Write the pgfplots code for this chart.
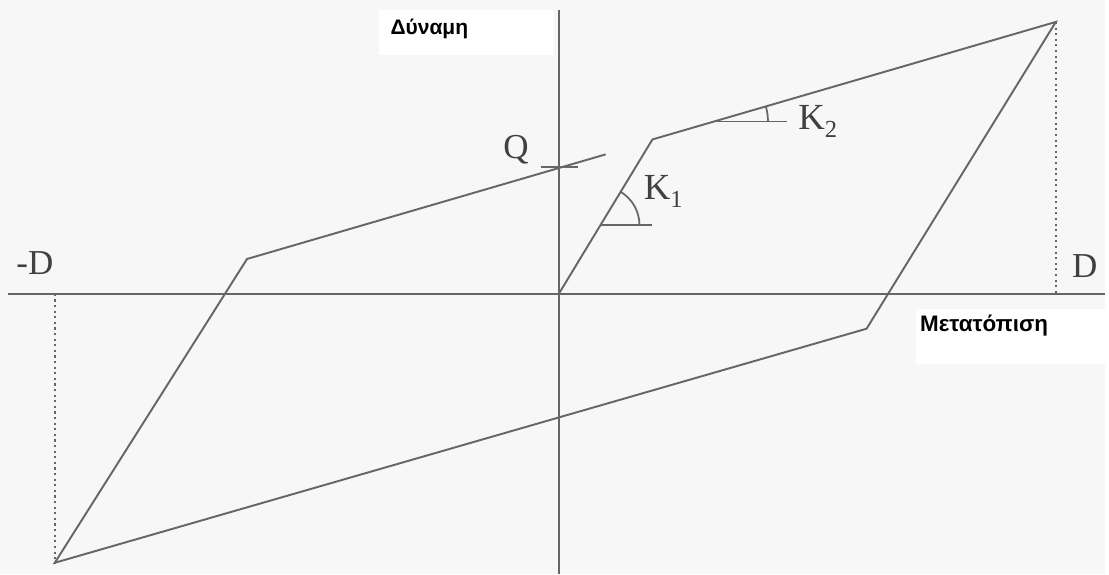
\documentclass[border=0pt]{standalone}
\usepackage{fontspec}
\setmainfont{Liberation Serif}
\newfontfamily\grk{Liberation Sans}
\usepackage{pgfplots}
\pgfplotsset{compat=1.18}
\definecolor{ink}{HTML}{666666}
\definecolor{paper}{HTML}{F7F7F7}
\begin{document}
\begin{tikzpicture}
\begin{axis}[hide axis, scale only axis, width=11.09cm, height=5.76cm,
  xmin=-561, xmax=548, ymin=-281, ymax=295, clip=false]
% background and label boxes
\fill[paper] (axis cs:-561,-281) rectangle (axis cs:548,295);
\fill[white] (axis cs:-181,240) rectangle (axis cs:-6,285);
\fill[white] (axis cs:359,-70) rectangle (axis cs:548,-15);
% coordinate axes
\addplot[ink, line width=0.5pt] coordinates {(-553,0) (548,0)};
\addplot[ink, line width=0.5pt] coordinates {(0,285) (0,-281)};
% dotted guides at +-D
\addplot[ink, densely dotted, line width=0.6pt] coordinates {(499,273) (499,0)};
\addplot[ink, densely dotted, line width=0.6pt] coordinates {(-506,0) (-506,-270)};
% hysteresis loop
\addplot[ink, line width=0.55pt] coordinates {
(0,0) (94,155) (499,273) (309,-35) (-506,-270) (-313,35) (47,140)
};
% Q tick
\addplot[ink, line width=0.55pt] coordinates {(-18,127) (19,127)};
% stiffness angle markers
\addplot[ink, line width=0.5pt] coordinates {(42,69) (94,69)};
\draw[ink, line width=0.5pt] (axis cs:81,69) arc[start angle=0, end angle=58.8, radius=0.39cm];
\addplot[ink, line width=0.5pt] coordinates {(154,173) (229,173)};
\draw[ink, line width=0.5pt] (axis cs:210,173) arc[start angle=0, end angle=16.2, radius=0.56cm];
% labels
\node[text=black!75, font=\fontsize{10}{10}\selectfont] at (axis cs:-526,31) {-D};
\node[text=black!75, font=\fontsize{10}{10}\selectfont] at (axis cs:528,28) {D};
\node[text=black!75, font=\fontsize{10}{10}\selectfont] at (axis cs:-43,145) {Q};
\node[text=black!75, font=\fontsize{10.5}{10}\selectfont, anchor=west] at (axis cs:73,103) {K\raisebox{-0.5ex}{\fontsize{7}{7}\selectfont 1}};
\node[text=black!75, font=\fontsize{10.5}{10}\selectfont, anchor=west] at (axis cs:228,173) {K\raisebox{-0.5ex}{\fontsize{7}{7}\selectfont 2}};
\node[anchor=base, font=\grk\bfseries\fontsize{6}{6}\selectfont] at (axis cs:-130,260) {Δύναμη};
\node[anchor=base, font=\grk\bfseries\fontsize{6.4}{6}\selectfont] at (axis cs:427,-38) {Μετατόπιση};
\end{axis}
\end{tikzpicture}
\end{document}
